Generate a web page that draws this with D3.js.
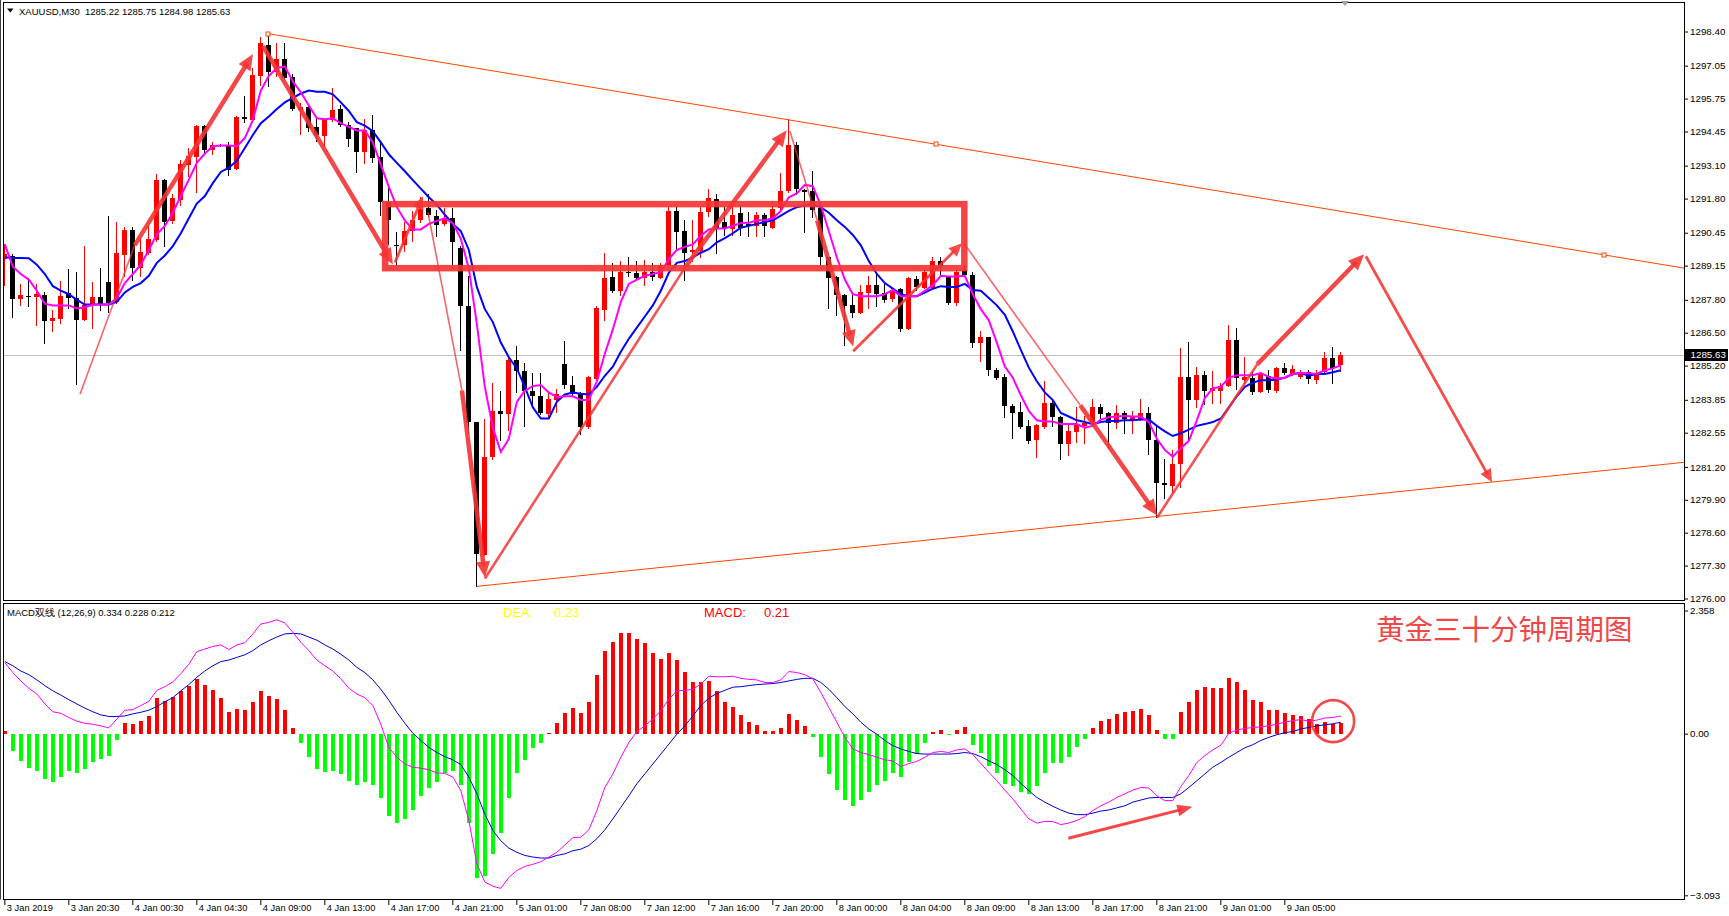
<!DOCTYPE html>
<html>
<head>
<meta charset="utf-8">
<script src="https://cdn.jsdelivr.net/npm/d3@7"></script>
<style>
html, body { margin: 0; padding: 0; background: #fff; }
svg { display: block; }
</style>
</head>
<body>
<script>
// XAUUSD M30 bars
const opens = [1289.41,1289.55,1287.84,1287.95,1287.90,1287.99,1286.96,1287.05,1288.05,1287.87,
1286.99,1287.61,1287.93,1288.51,1287.72,1289.57,1290.56,1289.07,1289.66,1290.18,
1292.55,1290.92,1291.73,1293.14,1293.46,1294.68,1293.70,1293.92,1293.90,1292.96,
1295.03,1294.90,1296.65,1297.88,1296.80,1297.31,1296.62,1295.31,1295.41,1294.63,
1294.28,1294.90,1295.32,1294.72,1294.57,1293.64,1294.49,1293.43,1291.65,1289.97,
1289.95,1290.53,1290.94,1291.41,1291.12,1290.80,1291.02,1289.85,1287.55,1282.97,
1277.70,1281.58,1283.41,1283.30,1285.44,1285.00,1284.21,1283.99,1283.29,1283.84,
1285.28,1284.43,1284.09,1282.78,1284.68,1287.40,1288.72,1288.16,1288.88,1288.86,
1288.68,1288.89,1288.65,1289.16,1291.31,1290.51,1289.69,1289.74,1291.27,1291.78,
1290.87,1290.58,1291.21,1290.80,1290.72,1291.16,1290.65,1291.41,1292.09,1293.90,
1292.15,1292.09,1291.41,1289.51,1288.70,1287.99,1287.58,1287.26,1288.05,1288.38,
1288.05,1287.84,1288.24,1286.66,1288.63,1288.28,1288.28,1289.33,1288.72,1287.69,
1288.97,1288.78,1286.08,1286.33,1285.02,1284.77,1283.59,1283.36,1282.82,1282.28,
1282.79,1283.73,1283.19,1282.09,1282.57,1282.82,1282.89,1283.55,1283.33,1282.92,
1283.33,1283.07,1283.11,1283.33,1282.26,1280.58,1280.43,1281.31,1284.77,1283.84,
1284.83,1284.21,1284.21,1284.39,1286.23,1284.62,1284.72,1284.14,1284.80,1284.18,
1285.09,1284.87,1284.77,1284.94,1284.62,1284.94,1285.50,1285.22];
const highs = [1289.99,1289.60,1288.43,1288.68,1288.43,1288.09,1287.39,1288.53,1289.00,1288.89,
1289.92,1288.49,1289.04,1291.13,1290.86,1290.68,1290.68,1290.24,1290.72,1292.79,
1292.58,1291.97,1293.32,1293.80,1294.70,1294.70,1294.02,1293.95,1294.02,1295.07,
1295.85,1296.95,1298.18,1298.31,1297.94,1297.94,1296.73,1295.56,1295.48,1294.97,
1294.93,1296.16,1295.48,1294.82,1294.57,1294.93,1295.12,1294.02,1292.34,1290.48,
1290.87,1291.31,1291.85,1291.97,1291.35,1291.41,1291.41,1289.92,1288.75,1282.97,
1283.11,1284.50,1284.21,1285.60,1285.97,1285.31,1284.90,1284.90,1284.14,1284.27,
1286.19,1284.80,1284.14,1284.80,1287.55,1289.63,1289.26,1289.33,1289.48,1289.33,
1289.36,1289.26,1289.26,1291.46,1291.46,1290.94,1290.94,1291.46,1292.19,1291.97,
1291.46,1291.53,1291.53,1291.27,1291.27,1291.24,1291.71,1292.80,1294.93,1294.02,
1292.19,1292.88,1291.53,1289.51,1288.75,1288.02,1288.09,1288.38,1288.75,1288.89,
1288.43,1288.28,1288.28,1288.72,1288.75,1289.04,1289.48,1289.48,1288.75,1289.11,
1289.19,1288.89,1286.55,1286.33,1285.09,1284.87,1283.70,1283.77,1283.04,1282.89,
1284.61,1283.84,1283.21,1282.89,1283.55,1283.21,1283.89,1283.70,1283.36,1283.65,
1283.41,1283.41,1283.89,1283.55,1282.82,1281.50,1281.87,1285.89,1286.14,1285.16,
1284.97,1284.97,1284.53,1286.82,1286.70,1285.53,1284.94,1284.94,1285.02,1285.16,
1285.31,1285.21,1285.02,1285.02,1285.02,1285.75,1285.94,1285.75];
const lows = [1288.38,1287.14,1287.61,1287.55,1286.82,1286.08,1286.58,1286.87,1287.46,1284.46,
1286.99,1286.67,1287.40,1287.31,1287.69,1288.75,1288.60,1288.75,1289.60,1290.12,
1289.92,1290.83,1291.53,1292.70,1292.04,1293.55,1293.58,1293.86,1292.73,1292.96,
1294.82,1294.82,1296.29,1296.24,1296.65,1296.54,1295.31,1294.36,1294.46,1294.09,
1293.87,1294.87,1294.68,1293.87,1292.85,1293.21,1293.26,1291.16,1289.99,1289.19,
1289.74,1290.14,1290.87,1291.12,1290.33,1290.77,1289.11,1285.82,1282.53,1276.48,
1277.70,1281.50,1282.28,1282.67,1284.14,1282.82,1283.55,1283.30,1283.21,1283.36,
1284.33,1284.03,1282.48,1282.75,1284.68,1286.99,1288.09,1287.99,1288.75,1288.60,
1288.38,1288.57,1288.65,1289.16,1289.85,1288.60,1289.33,1289.48,1291.12,1289.63,
1290.36,1290.36,1290.36,1290.33,1290.33,1290.33,1290.62,1291.38,1292.04,1291.97,
1290.46,1291.09,1289.19,1287.46,1287.21,1286.00,1287.14,1287.26,1287.46,1287.55,
1287.72,1287.75,1286.58,1286.63,1288.19,1288.28,1288.24,1288.75,1287.65,1287.58,
1288.78,1285.94,1285.38,1284.83,1284.68,1283.19,1282.34,1282.75,1282.16,1281.60,
1282.75,1282.82,1281.50,1281.65,1282.19,1282.16,1282.86,1283.04,1281.94,1282.75,
1282.53,1282.53,1283.04,1281.69,1279.23,1279.99,1280.18,1280.40,1282.31,1283.55,
1283.70,1283.73,1283.73,1284.39,1284.28,1284.50,1284.06,1284.14,1284.14,1284.14,
1284.87,1284.83,1284.72,1284.50,1284.50,1284.91,1284.50,1284.98];
const closes = [1289.60,1287.84,1287.99,1287.90,1288.02,1286.96,1287.07,1287.97,1287.87,1286.99,
1287.61,1287.93,1287.61,1287.69,1289.63,1290.56,1289.07,1289.70,1290.21,1292.55,
1290.87,1291.81,1293.18,1293.49,1294.68,1293.70,1293.93,1293.90,1292.92,1295.04,
1294.93,1296.70,1297.94,1296.80,1297.31,1296.58,1295.34,1295.40,1294.60,1294.31,
1294.90,1295.31,1294.72,1294.14,1293.65,1294.49,1293.40,1291.65,1290.94,1289.95,
1290.53,1290.94,1291.38,1291.15,1290.77,1291.02,1290.07,1287.55,1282.97,1277.74,
1281.58,1283.41,1283.30,1285.44,1284.97,1284.18,1283.99,1283.33,1283.89,1284.09,
1284.43,1284.09,1282.78,1284.77,1287.46,1288.68,1288.16,1288.89,1288.85,1288.65,
1288.89,1288.70,1289.19,1291.31,1290.48,1289.66,1289.77,1291.27,1291.82,1290.65,
1290.58,1291.16,1290.65,1290.71,1291.16,1290.71,1291.38,1292.09,1293.90,1292.19,
1292.06,1291.35,1289.48,1288.66,1287.99,1287.55,1287.26,1288.09,1288.38,1288.02,
1287.80,1288.19,1286.66,1288.65,1288.31,1288.89,1289.33,1289.11,1287.69,1288.89,
1288.78,1286.08,1286.33,1285.02,1284.72,1283.62,1283.33,1282.78,1282.23,1282.85,
1283.73,1283.16,1282.09,1282.60,1282.89,1282.92,1283.55,1283.30,1282.92,1283.33,
1283.11,1283.16,1283.33,1282.26,1280.58,1280.48,1281.31,1284.77,1283.84,1284.83,
1284.21,1284.33,1284.39,1286.23,1284.72,1284.77,1284.14,1284.87,1284.24,1285.12,
1284.91,1285.06,1284.94,1284.68,1284.91,1285.50,1285.12,1285.63];

// moving averages (magenta fast, blue slow)
const maFast = [1289.99,1289.11,1288.82,1288.60,1288.16,1287.65,1287.58,1287.58,1287.58,1287.46,
1287.50,1287.61,1287.61,1287.61,1287.87,1288.46,1288.82,1289.19,1289.77,1290.39,
1290.72,1291.24,1291.90,1292.55,1293.21,1293.58,1293.87,1293.90,1293.90,1293.87,
1294.19,1294.90,1296.07,1296.65,1296.95,1297.02,1296.43,1296.00,1295.48,1294.97,
1294.93,1294.97,1294.78,1294.63,1294.49,1294.49,1294.02,1293.14,1292.26,1291.46,
1290.94,1290.58,1290.58,1290.80,1290.92,1291.02,1290.83,1290.21,1289.04,1286.85,
1284.36,1282.75,1281.79,1282.31,1283.77,1284.21,1284.39,1284.43,1284.14,1283.95,
1283.99,1283.99,1283.84,1283.84,1284.58,1285.67,1286.63,1287.72,1288.43,1288.60,
1288.75,1288.82,1288.89,1289.41,1289.77,1289.89,1289.99,1290.33,1290.58,1290.62,
1290.62,1290.72,1290.83,1290.84,1290.94,1290.94,1291.02,1291.31,1291.85,1292.00,
1292.34,1292.29,1291.53,1290.51,1289.48,1288.60,1288.02,1287.94,1287.94,1287.94,
1288.02,1288.19,1287.94,1287.94,1287.94,1288.16,1288.38,1288.75,1288.72,1288.72,
1288.75,1288.02,1287.43,1286.99,1286.11,1285.16,1284.72,1284.03,1283.41,1283.04,
1282.99,1282.99,1282.89,1282.89,1282.89,1282.75,1282.82,1283.07,1283.16,1283.19,
1283.21,1283.19,1283.19,1282.97,1282.31,1281.87,1281.60,1281.94,1282.23,1283.04,
1283.92,1284.31,1284.36,1284.72,1284.82,1284.82,1284.82,1284.91,1284.75,1284.68,
1284.72,1284.87,1284.91,1284.90,1284.87,1285.02,1285.09,1285.21];
const maSlow = [1289.48,1289.45,1289.45,1289.44,1289.19,1288.82,1288.34,1288.16,1288.02,1287.80,
1287.61,1287.61,1287.61,1287.61,1287.72,1288.09,1288.31,1288.46,1288.75,1289.26,
1289.55,1289.92,1290.43,1291.02,1291.60,1291.90,1292.41,1292.85,1293.02,1293.29,
1293.80,1294.31,1294.78,1295.04,1295.34,1295.60,1295.78,1295.95,1296.07,1296.02,
1296.02,1295.92,1295.60,1295.26,1294.82,1294.68,1294.46,1294.02,1293.55,1293.21,
1292.88,1292.53,1292.19,1291.85,1291.56,1291.16,1290.80,1290.51,1289.77,1288.31,
1287.43,1286.92,1286.11,1285.53,1285.09,1284.36,1283.55,1283.11,1283.11,1283.77,
1284.06,1284.14,1284.09,1284.06,1284.36,1284.80,1285.16,1285.75,1286.26,1286.70,
1287.14,1287.58,1288.16,1288.87,1289.26,1289.33,1289.48,1289.66,1289.80,1290.07,
1290.24,1290.43,1290.65,1290.72,1290.80,1290.87,1290.94,1291.13,1291.31,1291.46,
1291.53,1291.56,1291.46,1291.24,1290.94,1290.68,1290.36,1289.95,1289.33,1288.82,
1288.46,1288.24,1288.02,1287.94,1287.94,1288.09,1288.24,1288.34,1288.31,1288.31,
1288.43,1288.19,1288.16,1287.87,1287.58,1287.21,1286.55,1285.82,1285.12,1284.58,
1284.14,1283.84,1283.33,1283.19,1283.04,1282.97,1282.89,1282.97,1283.01,1283.01,
1283.04,1283.04,1283.07,1283.07,1282.82,1282.60,1282.42,1282.53,1282.67,1282.82,
1282.89,1282.97,1283.11,1283.55,1283.99,1284.36,1284.53,1284.62,1284.62,1284.65,
1284.72,1284.87,1284.91,1284.80,1284.87,1284.87,1284.94,1285.02];

// MACD (12,26,9): histogram, DIF line, DEA line
const macdHist = [0.06,-0.33,-0.53,-0.66,-0.71,-0.87,-0.93,-0.82,-0.72,-0.76,
-0.68,-0.55,-0.49,-0.43,-0.12,0.20,0.19,0.25,0.34,0.68,
0.63,0.71,0.82,0.92,1.05,0.94,0.84,0.69,0.42,0.47,
0.46,0.61,0.82,0.73,0.66,0.46,0.11,-0.17,-0.45,-0.68,
-0.74,-0.72,-0.77,-0.90,-0.99,-0.92,-0.99,-1.24,-1.57,-1.71,
-1.64,-1.46,-1.20,-1.03,-0.92,-0.76,-0.72,-0.99,-1.71,-2.77,
-2.73,-2.31,-1.91,-1.24,-0.76,-0.50,-0.28,-0.18,0.01,0.21,
0.40,0.50,0.40,0.61,1.13,1.59,1.76,1.92,1.93,1.82,
1.73,1.54,1.43,1.54,1.41,1.19,0.98,0.98,1.00,0.81,
0.61,0.52,0.36,0.23,0.17,0.06,0.06,0.11,0.38,0.27,
0.15,-0.06,-0.44,-0.78,-1.07,-1.26,-1.38,-1.26,-1.11,-0.99,
-0.90,-0.75,-0.82,-0.55,-0.38,-0.17,0.04,0.08,-0.03,0.08,
0.13,-0.21,-0.36,-0.61,-0.76,-0.96,-1.01,-1.11,-1.15,-1.01,
-0.75,-0.57,-0.57,-0.44,-0.26,-0.11,0.11,0.25,0.29,0.38,
0.42,0.44,0.48,0.36,0.08,-0.11,-0.10,0.42,0.61,0.84,
0.90,0.88,0.88,1.07,0.98,0.84,0.65,0.61,0.46,0.46,
0.40,0.36,0.33,0.28,0.19,0.23,0.19,0.21];
const macdDif = [1.36,1.17,1.01,0.87,0.76,0.57,0.42,0.39,0.31,0.24,
0.20,0.18,0.15,0.11,0.28,0.45,0.46,0.54,0.62,0.83,
0.90,0.99,1.15,1.33,1.57,1.62,1.67,1.70,1.61,1.70,
1.74,1.91,2.10,2.13,2.18,2.12,1.94,1.75,1.59,1.41,
1.30,1.20,1.05,0.87,0.76,0.69,0.54,0.18,-0.26,-0.45,
-0.58,-0.64,-0.66,-0.69,-0.75,-0.76,-0.83,-1.09,-1.66,-2.49,
-2.84,-2.92,-2.96,-2.75,-2.62,-2.54,-2.50,-2.45,-2.36,-2.27,
-2.13,-1.99,-1.98,-1.84,-1.47,-1.03,-0.77,-0.45,-0.17,0.04,
0.15,0.28,0.44,0.66,0.82,0.83,0.85,0.95,1.10,1.09,
1.09,1.10,1.06,1.04,1.03,0.98,0.98,1.03,1.19,1.17,
1.13,1.05,0.79,0.50,0.22,-0.07,-0.29,-0.36,-0.40,-0.45,
-0.50,-0.52,-0.63,-0.57,-0.53,-0.45,-0.36,-0.34,-0.36,-0.31,
-0.29,-0.40,-0.57,-0.74,-0.90,-1.08,-1.25,-1.44,-1.63,-1.71,
-1.68,-1.68,-1.74,-1.71,-1.66,-1.59,-1.47,-1.38,-1.31,-1.22,
-1.15,-1.08,-1.03,-1.04,-1.19,-1.28,-1.28,-1.01,-0.80,-0.55,
-0.42,-0.31,-0.22,0.01,0.07,0.10,0.12,0.13,0.15,0.18,
0.22,0.25,0.27,0.24,0.26,0.30,0.31,0.34];
const macdDea = [1.38,1.30,1.20,1.13,1.03,0.92,0.82,0.74,0.65,0.57,
0.49,0.42,0.36,0.33,0.33,0.34,0.38,0.41,0.45,0.52,
0.61,0.69,0.82,0.94,1.08,1.20,1.30,1.38,1.41,1.46,
1.51,1.59,1.70,1.78,1.85,1.91,1.92,1.91,1.85,1.79,
1.70,1.62,1.52,1.41,1.27,1.17,1.03,0.85,0.64,0.41,
0.20,0.01,-0.13,-0.26,-0.36,-0.44,-0.50,-0.59,-0.83,-1.15,
-1.54,-1.85,-2.05,-2.19,-2.27,-2.33,-2.36,-2.38,-2.38,-2.33,
-2.30,-2.24,-2.21,-2.14,-2.01,-1.84,-1.63,-1.41,-1.19,-0.96,
-0.77,-0.58,-0.39,-0.20,-0.01,0.15,0.34,0.54,0.68,0.77,
0.83,0.89,0.90,0.92,0.94,0.95,0.96,0.98,1.01,1.04,
1.06,1.06,0.98,0.85,0.69,0.52,0.38,0.22,0.09,-0.01,
-0.13,-0.23,-0.29,-0.34,-0.38,-0.39,-0.39,-0.39,-0.39,-0.38,
-0.36,-0.38,-0.44,-0.52,-0.59,-0.69,-0.80,-0.95,-1.09,-1.22,
-1.31,-1.39,-1.46,-1.52,-1.55,-1.55,-1.52,-1.48,-1.46,-1.42,
-1.38,-1.31,-1.27,-1.23,-1.22,-1.22,-1.22,-1.15,-1.03,-0.90,
-0.77,-0.64,-0.55,-0.45,-0.36,-0.27,-0.21,-0.13,-0.07,-0.02,
0.02,0.04,0.09,0.12,0.15,0.17,0.19,0.22];

const priceTicks = [1298.40,1297.05,1295.75,1294.45,1293.10,1291.80,1290.45,1289.15,1287.80,
  1286.50,1285.20,1283.85,1282.55,1281.20,1279.90,1278.60,1277.30,1276.00];
const macdTicks = [2.358, 0, -3.093];
const timeLabels = ["3 Jan 2019","3 Jan 20:30","4 Jan 00:30","4 Jan 04:30","4 Jan 09:00","4 Jan 13:00",
  "4 Jan 17:00","4 Jan 21:00","5 Jan 01:00","7 Jan 08:00","7 Jan 12:00","7 Jan 16:00","7 Jan 20:00",
  "8 Jan 00:00","8 Jan 04:00","8 Jan 09:00","8 Jan 13:00","8 Jan 17:00","8 Jan 21:00","9 Jan 01:00","9 Jan 05:00"];
const lastPrice = 1285.63;

// drawn objects, as [bar, price]
const trendUpper = [[33, 1298.31], [200, 1289.57]];
const trendLower = [[59, 1276.48], [144, 1279.24]];
const zoneBars = [47.6, 120];
const zonePrices = [1289.05, 1291.58];
const thinLegs = [
  [[9.46,1284.07],[16.3,1289.96]],
  [[52.96,1291.26],[57.2,1284.22]],
  [[98.2,1294.46],[101.6,1290.94]],
  [[119.96,1290.03],[134.5,1283.63]]
];
const midLegs = [
  [[60.08,1276.79],[85.2,1289.13]],
  [[144.1,1279.20],[156.6,1285.25]]
];
const thickArrows = [
  [[16.3,1289.96],[31.08,1297.51]],
  [[32.33,1297.82],[48.58,1289.20]],
  [[57.2,1284.22],[60.08,1276.83]],
  [[85.2,1289.13],[97.8,1294.50]],
  [[101.6,1290.94],[106.1,1285.96]],
  [[134.5,1283.63],[144.1,1279.28]],
  [[156.6,1285.25],[169.97,1289.60]]
];
const midArrows = [
  [[48.83,1289.28],[52.33,1291.89]],
  [[106.1,1285.77],[119.7,1290.03]],
  [[170.2,1289.52],[185.96,1280.59]]
];
const macdArrow = [[133.0,-2.00],[148.5,-1.40]];
const macdCircle = [166.1, 0.24];

const W = 1729, H = 916;
const plotL = 3.5, plotR = 1684.5, mainT = 2.5, mainB = 600.5, macdT = 603.5, macdB = 899.5;
const RED = '#f43434';
const FONT = '"Liberation Sans", Arial, sans-serif';

const svg = d3.select('body').append('svg')
  .attr('width', W).attr('height', H)
  .style('font-family', FONT);

const x = d3.scaleLinear().domain([0, 1]).range([4.33, 12.33]);
const y = d3.scaleLinear().domain([1276.00, 1298.40]).range([598.5, 31.5]);
const ym = d3.scaleLinear().domain([-3.093, 2.358]).range([895.3, 610.5]);

const defs = svg.append('defs');
defs.append('clipPath').attr('id', 'clipMain').append('rect')
  .attr('x', plotL + 0.5).attr('y', mainT + 0.5)
  .attr('width', plotR - plotL - 1).attr('height', mainB - mainT - 1);
defs.append('clipPath').attr('id', 'clipMacd').append('rect')
  .attr('x', plotL + 0.5).attr('y', macdT + 0.5)
  .attr('width', plotR - plotL - 1).attr('height', macdB - macdT - 1);

// ---- main panel ----
const gMain = svg.append('g').attr('clip-path', 'url(#clipMain)');

gMain.append('line')
  .attr('x1', plotL).attr('x2', plotR)
  .attr('y1', Math.round(y(lastPrice)) + 0.5).attr('y2', Math.round(y(lastPrice)) + 0.5)
  .attr('stroke', '#c0c0c0');

const bars = d3.range(opens.length).map(i => ({i, o: opens[i], h: highs[i], l: lows[i], c: closes[i]}));
const barColor = d => d.c >= d.o ? '#ff0000' : '#000000';

gMain.selectAll('line.wick').data(bars).join('line')
  .attr('class', 'wick')
  .attr('x1', d => Math.round(x(d.i)) + 0.5)
  .attr('x2', d => Math.round(x(d.i)) + 0.5)
  .attr('y1', d => Math.round(y(d.h)))
  .attr('y2', d => Math.round(y(d.l)) + 1)
  .attr('stroke', barColor);

gMain.selectAll('rect.body').data(bars).join('rect')
  .attr('class', 'body')
  .attr('x', d => Math.round(x(d.i)) - 2)
  .attr('width', 5)
  .attr('y', d => Math.round(y(Math.max(d.o, d.c))))
  .attr('height', d => Math.max(1, Math.round(y(Math.min(d.o, d.c))) - Math.round(y(Math.max(d.o, d.c)))))
  .attr('fill', barColor)
  .attr('shape-rendering', 'crispEdges');

// trend lines (rays to the right)
function rayPath(a, b) {
  const slope = (b[1] - a[1]) / (b[0] - a[0]);
  const end = 212;
  return [[a[0], a[1]], [end, a[1] + slope * (end - a[0])]];
}
const lineXY = d3.line().x(d => x(d[0]) + 0.5).y(d => y(d[1]));
[trendUpper, trendLower].forEach(t => {
  gMain.append('path').attr('d', lineXY(rayPath(t[0], t[1])))
    .attr('fill', 'none').attr('stroke', '#ff4500').attr('stroke-width', 1);
});
const handles = [trendUpper[0], trendUpper[1],
  [(trendUpper[0][0] + trendUpper[1][0]) / 2, (trendUpper[0][1] + trendUpper[1][1]) / 2]];
gMain.selectAll('rect.handle').data(handles).join('rect')
  .attr('class', 'handle')
  .attr('x', d => Math.round(x(d[0])) - 2).attr('y', d => Math.round(y(d[1])) - 2)
  .attr('width', 4).attr('height', 4)
  .attr('fill', '#fff').attr('stroke', '#ff4500').attr('stroke-width', 1);

// moving averages
const maLine = d3.line().x((d, i) => x(i) + 0.5).y(d => y(d));
gMain.append('path').datum(maSlow).attr('d', maLine)
  .attr('fill', 'none').attr('stroke', '#0000ff').attr('stroke-width', 2);
gMain.append('path').datum(maFast).attr('d', maLine)
  .attr('fill', 'none').attr('stroke', '#ff00ff').attr('stroke-width', 2);

// red hand drawn marks
const gMark = svg.append('g').attr('clip-path', 'url(#clipMain)');

function drawArrow(g, seg, sx, sy, width, len, half, op) {
  const p1 = [sx(seg[0][0]), sy(seg[0][1])];
  const p2 = [sx(seg[1][0]), sy(seg[1][1])];
  const dx = p2[0] - p1[0], dy = p2[1] - p1[1], L = Math.hypot(dx, dy);
  const ux = dx / L, uy = dy / L;
  const bx = p2[0] - ux * len, by = p2[1] - uy * len;
  g.append('line')
    .attr('x1', p1[0]).attr('y1', p1[1])
    .attr('x2', p2[0] - ux * len * 0.7).attr('y2', p2[1] - uy * len * 0.7)
    .attr('stroke', RED).attr('stroke-width', width).attr('opacity', op)
    .attr('stroke-linecap', 'butt');
  g.append('path')
    .attr('d', `M${p2[0]},${p2[1]}L${bx - uy * half},${by + ux * half}L${bx + uy * half},${by - ux * half}Z`)
    .attr('fill', RED).attr('opacity', op);
}

gMark.selectAll('line.thin').data(thinLegs).join('line')
  .attr('class', 'thin')
  .attr('x1', d => x(d[0][0])).attr('y1', d => y(d[0][1]))
  .attr('x2', d => x(d[1][0])).attr('y2', d => y(d[1][1]))
  .attr('stroke', RED).attr('stroke-width', 1.6).attr('opacity', 0.75);
gMark.selectAll('line.mid').data(midLegs).join('line')
  .attr('class', 'mid')
  .attr('x1', d => x(d[0][0])).attr('y1', d => y(d[0][1]))
  .attr('x2', d => x(d[1][0])).attr('y2', d => y(d[1][1]))
  .attr('stroke', RED).attr('stroke-width', 2.6).attr('opacity', 0.85);
thickArrows.forEach(s => drawArrow(gMark, s, x, y, 4.5, 16, 7, 0.9));
midArrows.forEach(s => drawArrow(gMark, s, x, y, 2.8, 13, 6, 0.88));

gMark.append('rect')
  .attr('x', x(zoneBars[0])).attr('y', y(zonePrices[1]))
  .attr('width', x(zoneBars[1]) - x(zoneBars[0]))
  .attr('height', y(zonePrices[0]) - y(zonePrices[1]))
  .attr('fill', 'none').attr('stroke', RED).attr('stroke-width', 6.5).attr('opacity', 0.92);

// ---- MACD panel ----
const gMacd = svg.append('g').attr('clip-path', 'url(#clipMacd)');
const zeroY = Math.round(ym(0));
gMacd.selectAll('rect.hist').data(macdHist).join('rect')
  .attr('class', 'hist')
  .attr('x', (d, i) => Math.round(x(i)) - 1)
  .attr('width', 4)
  .attr('y', d => d >= 0 ? Math.round(ym(d)) : zeroY)
  .attr('height', d => Math.max(1, Math.abs(Math.round(ym(d)) - zeroY)))
  .attr('fill', d => d >= 0 ? '#ff0000' : '#00ff00')
  .attr('shape-rendering', 'crispEdges');

const macdLine = d3.line().x((d, i) => x(i) + 0.5).y(d => ym(d));
gMacd.append('path').datum(macdDea).attr('d', macdLine)
  .attr('fill', 'none').attr('stroke', '#0000cd').attr('stroke-width', 1);
gMacd.append('path').datum(macdDif).attr('d', macdLine)
  .attr('fill', 'none').attr('stroke', '#ff00ff').attr('stroke-width', 1);

drawArrow(gMacd, macdArrow, x, ym, 3, 15, 6, 0.9);
gMacd.append('circle')
  .attr('cx', x(macdCircle[0])).attr('cy', ym(macdCircle[1])).attr('r', 21)
  .attr('fill', 'none').attr('stroke', RED).attr('stroke-width', 2.6).attr('opacity', 0.9);

// ---- frames ----
svg.append('line').attr('x1', 0.5).attr('x2', 0.5).attr('y1', 0).attr('y2', macdB)
  .attr('stroke', '#404040');
svg.append('rect').attr('x', plotL).attr('y', mainT)
  .attr('width', plotR - plotL).attr('height', mainB - mainT)
  .attr('fill', 'none').attr('stroke', '#000');
svg.append('rect').attr('x', plotL).attr('y', macdT)
  .attr('width', plotR - plotL).attr('height', macdB - macdT)
  .attr('fill', 'none').attr('stroke', '#000');
svg.append('path').attr('d', 'M1341,1L1349,1L1345,6Z').attr('fill', '#a0a0a0');

// ---- axes ----
const axP = svg.append('g').attr('transform', `translate(${plotR - 0.5},0)`)
  .call(d3.axisRight(y).tickValues(priceTicks).tickFormat(d3.format('.2f')).tickSize(4).tickPadding(2));
axP.select('.domain').remove();
axP.selectAll('text').attr('font-size', 9.8).attr('font-family', FONT).attr('fill', '#000');

const py = Math.round(y(lastPrice));
svg.append('rect').attr('x', plotR + 0.5).attr('y', py - 6).attr('width', 43).attr('height', 12).attr('fill', '#000');
svg.append('text').attr('x', plotR + 6).attr('y', py).attr('dy', '0.35em')
  .attr('font-size', 9.8).attr('fill', '#fff').text(d3.format('.2f')(lastPrice));

const axM = svg.append('g').attr('transform', `translate(${plotR - 0.5},0)`)
  .call(d3.axisRight(ym).tickValues(macdTicks)
    .tickFormat(d => d === 0 ? '0.00' : d3.format('.3f')(d)).tickSize(4).tickPadding(2));
axM.select('.domain').remove();
axM.selectAll('text').attr('font-size', 9.8).attr('font-family', FONT).attr('fill', '#000');

const axT = svg.append('g').attr('transform', `translate(0,${macdB - 0.5})`)
  .call(d3.axisBottom(x).tickValues(d3.range(0, 161, 8))
    .tickFormat((d, i) => timeLabels[i]).tickSize(6).tickSizeOuter(0));
axT.select('.domain').remove();
axT.selectAll('text').attr('font-size', 9.3).attr('font-family', FONT).attr('fill', '#000')
  .attr('text-anchor', 'start').attr('x', 2).attr('y', 5).attr('dy', '0.71em');

// ---- texts ----
svg.append('path').attr('d', 'M7,8.5L13.5,8.5L10.25,12.5Z').attr('fill', '#000');
svg.append('text').attr('x', 19).attr('y', 14.5).attr('font-size', 9.5).attr('fill', '#000')
  .attr('xml:space', 'preserve')
  .text('XAUUSD,M30  1285.22 1285.75 1284.98 1285.63');

svg.append('text').attr('x', 7).attr('y', 616).attr('font-size', 9.5).attr('fill', '#000')
  .text('MACD双线 (12,26,9) 0.334 0.228 0.212');

svg.append('text').attr('x', 503).attr('y', 617).attr('font-size', 13).attr('fill', '#ffff00').text('DEA:');
svg.append('text').attr('x', 554).attr('y', 617).attr('font-size', 13).attr('fill', '#ffff00').text('0.23');
svg.append('text').attr('x', 704).attr('y', 617).attr('font-size', 13).attr('fill', '#ff0000').text('MACD:');
svg.append('text').attr('x', 764).attr('y', 617).attr('font-size', 13).attr('fill', '#ff0000').text('0.21');

svg.append('text').attr('x', 1376).attr('y', 640)
  .attr('font-size', 28.5).attr('font-family', '"Noto Sans CJK SC", sans-serif')
  .attr('fill', '#f04848').text('黄金三十分钟周期图');
</script>
</body>
</html>
